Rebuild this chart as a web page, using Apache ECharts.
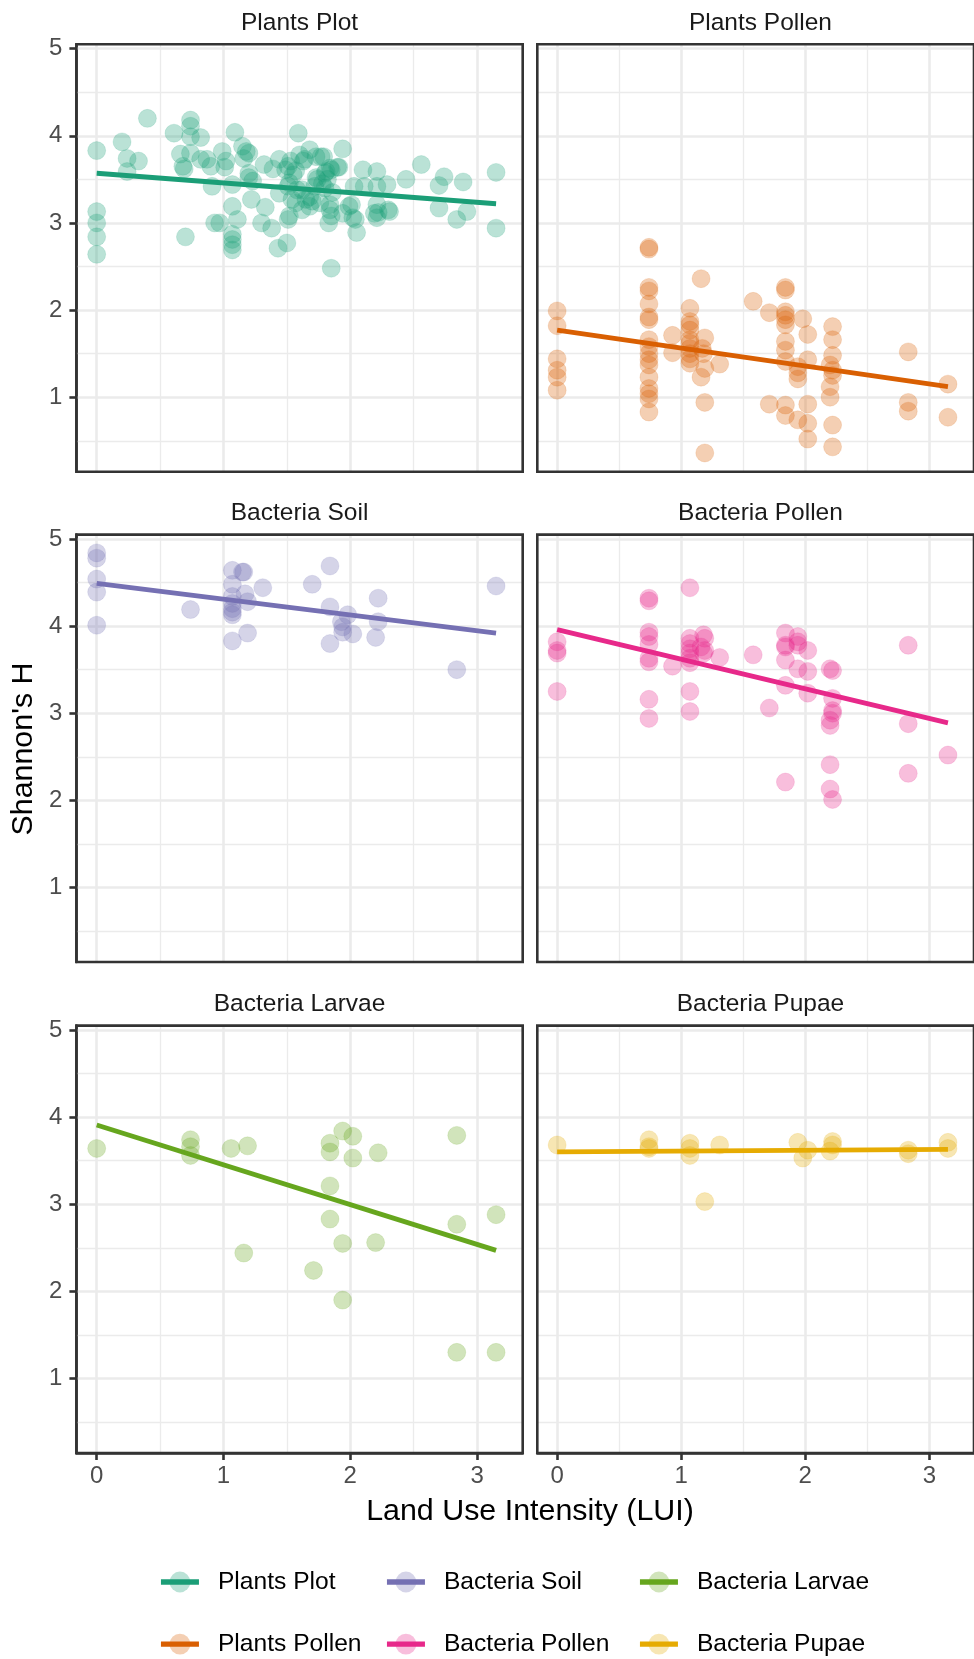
<!DOCTYPE html>
<html>
<head>
<meta charset="utf-8">
<script src="https://cdn.jsdelivr.net/npm/echarts@6/dist/echarts.min.js"></script>
<style>
  html, body { margin: 0; padding: 0; background: #fff; }
  #chart { width: 974px; height: 1659px; }
</style>
</head>
<body>
<div id="chart"></div>
<script>
  // groups, in facet order (row by row)
  const groupNames = ['Plants Plot', 'Plants Pollen', 'Bacteria Soil', 'Bacteria Pollen', 'Bacteria Larvae', 'Bacteria Pupae'];
  const groupColors = ['#1B9E77', '#D95F02', '#7570B3', '#E7298A', '#66A61E', '#E6AB02'];
  const groupFills = ['rgba(27,158,119,0.3)', 'rgba(217,95,2,0.3)', 'rgba(117,112,179,0.3)',
    'rgba(231,41,138,0.3)', 'rgba(102,166,30,0.3)', 'rgba(230,171,2,0.3)'];
  const xTicks = [0, 1, 2, 3];
  const yTicks = [1, 2, 3, 4, 5];

  // [LUI, Shannon's H]
  const plantsPlot = [
    [0, 3.83], [0, 3.13], [0, 3.0], [0, 2.84], [0, 2.64],
    [0.20, 3.93], [0.24, 3.74], [0.24, 3.59], [0.33, 3.71], [0.40, 4.20],
    [0.61, 4.03], [0.74, 4.18], [0.74, 4.11], [0.74, 3.99], [0.82, 3.98],
    [0.66, 3.79], [0.68, 3.65], [0.69, 3.62], [0.74, 3.80], [0.70, 2.84],
    [0.82, 3.73], [0.87, 3.73], [0.90, 3.65], [0.91, 3.42], [0.93, 3.0], [0.97, 3.0],
    [0.99, 3.82], [1.02, 3.71], [1.01, 3.64], [1.07, 3.44], [1.09, 4.04], [1.07, 3.19], [1.11, 3.04],
    [1.07, 2.87], [1.07, 2.81], [1.07, 2.75], [1.07, 2.69],
    [1.15, 3.88], [1.18, 3.82], [1.20, 3.80], [1.20, 3.57], [1.20, 3.52], [1.22, 3.27], [1.16, 3.74], [1.23, 3.48],
    [1.32, 3.67], [1.30, 3.0], [1.33, 3.18], [1.38, 2.94], [1.43, 2.71],
    [1.39, 3.62], [1.44, 3.73], [1.49, 3.61], [1.51, 3.65], [1.52, 3.46], [1.44, 3.34], [1.52, 3.08],
    [1.50, 2.77], [1.57, 3.23], [1.59, 4.03], [1.60, 3.78],
    [1.94, 3.85], [1.68, 3.84], [1.73, 3.76], [1.77, 3.76], [1.64, 3.73], [1.85, 3.61], [1.90, 3.64],
    [1.81, 3.59], [1.82, 3.50], [1.73, 3.52], [1.72, 3.42], [1.62, 3.38], [1.65, 3.27], [1.68, 3.19],
    [1.76, 3.23], [1.84, 3.21], [1.84, 3.15], [1.85, 3.08], [1.83, 3.0], [1.94, 3.11], [2.01, 3.21],
    [2.02, 3.06], [2.05, 2.89], [2.03, 3.42], [2.10, 3.61], [2.11, 3.42], [2.21, 3.59], [2.21, 3.42],
    [2.29, 3.44], [2.21, 3.21], [2.21, 3.06], [2.19, 3.11], [2.30, 3.15], [1.85, 2.48], [2.44, 3.50],
    [2.56, 3.67], [2.74, 3.53], [2.70, 3.43], [2.89, 3.47], [2.70, 3.17], [2.84, 3.04], [2.92, 3.13],
    [3.15, 3.58], [3.15, 2.94],
    [1.51, 3.42], [1.54, 3.27], [1.58, 3.38], [1.55, 3.55], [1.53, 3.71], [1.57, 3.60], [1.91, 3.64],
    [1.86, 3.35], [1.62, 3.15], [1.68, 3.30], [1.78, 3.45], [1.80, 3.40], [1.70, 3.25], [1.74, 3.50],
    [1.80, 3.57], [1.84, 3.63], [1.99, 3.19], [2.04, 3.04], [2.22, 3.12], [2.31, 3.13], [1.51, 3.04],
    [1.63, 3.71], [1.79, 3.76]
  ];
  const plantsPollen = [
    [0, 1.99], [0, 1.82], [0, 1.44], [0, 1.31], [0, 1.23], [0, 1.08],
    [0.74, 2.72], [0.74, 2.70], [0.74, 2.26], [0.74, 2.22], [0.74, 2.07], [0.74, 1.92], [0.74, 1.89],
    [0.74, 1.66], [0.74, 1.58], [0.74, 1.50], [0.74, 1.43], [0.74, 1.37], [0.74, 1.23], [0.74, 1.10],
    [0.74, 1.04], [0.74, 0.98], [0.74, 0.83],
    [0.93, 1.71], [0.93, 1.51],
    [1.07, 2.02], [1.07, 1.87], [1.07, 1.83], [1.07, 1.77], [1.07, 1.66], [1.07, 1.62], [1.07, 1.56],
    [1.07, 1.50], [1.07, 1.44], [1.07, 1.39],
    [1.16, 2.36], [1.19, 1.68], [1.17, 1.56], [1.18, 1.50], [1.19, 1.33], [1.16, 1.23], [1.31, 1.38],
    [1.19, 0.94], [1.19, 0.36],
    [1.58, 2.10], [1.71, 1.97], [1.84, 2.26], [1.84, 2.23], [1.84, 1.98], [1.84, 1.94], [1.84, 1.89],
    [1.84, 1.83], [1.84, 1.64], [1.84, 1.54], [1.84, 1.41], [1.84, 0.91], [1.84, 0.79],
    [1.98, 1.90], [2.02, 1.72], [2.02, 1.43], [1.94, 1.35], [1.94, 1.28], [1.94, 1.21], [1.71, 0.92],
    [1.94, 0.74], [2.02, 0.92], [2.02, 0.70], [2.02, 0.52],
    [2.22, 1.81], [2.22, 1.66], [2.22, 1.48], [2.20, 1.37], [2.22, 1.31], [2.22, 1.25], [2.20, 1.12],
    [2.20, 1.00], [2.22, 0.68], [2.22, 0.43],
    [2.83, 1.52], [2.83, 0.94], [2.83, 0.84], [3.15, 1.15], [3.15, 0.77]
  ];
  const bacteriaSoil = [
    [0, 4.84], [0, 4.78], [0, 4.54], [0, 4.39], [0, 4.01], [0.74, 4.19],
    [1.07, 4.64], [1.07, 4.48], [1.07, 4.34], [1.07, 4.26], [1.07, 4.20], [1.07, 4.16], [1.07, 4.13],
    [1.07, 3.83], [1.15, 4.62], [1.16, 4.62], [1.17, 4.37], [1.19, 4.28], [1.19, 3.92], [1.31, 4.44],
    [1.70, 4.48], [1.84, 4.69], [1.84, 4.22], [1.84, 3.80], [1.93, 4.05], [1.94, 3.99], [1.94, 3.93],
    [1.98, 4.13], [2.02, 3.91], [2.20, 3.87], [2.22, 4.32], [2.22, 4.05], [2.84, 3.50], [3.15, 4.46]
  ];
  const bacteriaPollen = [
    [0, 3.82], [0, 3.72], [0, 3.69], [0, 3.25],
    [0.74, 4.32], [0.74, 4.29], [0.74, 3.93], [0.74, 3.88], [0.74, 3.79], [0.74, 3.63], [0.74, 3.59],
    [0.74, 3.16], [0.74, 2.94],
    [1.07, 4.44], [0.93, 3.54], [1.07, 3.86], [1.07, 3.80], [1.07, 3.74], [1.07, 3.69], [1.07, 3.63],
    [1.07, 3.58], [1.07, 3.25], [1.07, 3.02],
    [1.18, 3.90], [1.19, 3.86], [1.16, 3.76], [1.18, 3.69], [1.19, 3.72], [1.31, 3.64], [1.58, 3.67],
    [1.71, 3.06], [1.84, 3.92], [1.84, 3.78], [1.84, 3.76], [1.84, 3.61], [1.84, 3.32], [1.84, 2.21],
    [1.94, 3.88], [1.94, 3.82], [1.94, 3.78], [1.94, 3.51], [2.02, 3.72], [2.02, 3.48], [2.02, 3.23],
    [2.20, 3.51], [2.22, 3.49], [2.22, 3.17], [2.22, 3.03], [2.22, 3.00], [2.20, 2.92], [2.20, 2.86],
    [2.20, 2.41], [2.20, 2.13], [2.22, 2.01],
    [2.83, 3.78], [2.83, 2.88], [2.83, 2.31], [3.15, 2.52]
  ];
  const bacteriaLarvae = [
    [0, 3.64], [0.74, 3.74], [0.74, 3.66], [0.74, 3.56], [1.06, 3.64], [1.19, 3.67], [1.16, 2.44],
    [1.71, 2.24], [1.84, 3.70], [1.84, 3.60], [1.84, 3.21], [1.84, 2.83], [1.94, 3.84], [2.02, 3.78],
    [2.02, 3.53], [1.94, 2.55], [1.94, 1.90], [2.20, 2.56], [2.22, 3.59], [2.84, 3.79], [2.84, 2.77],
    [2.84, 1.30], [3.15, 2.88], [3.15, 1.30]
  ];
  const bacteriaPupae = [
    [0, 3.68], [0.74, 3.74], [0.74, 3.66], [0.74, 3.64], [1.07, 3.70], [1.07, 3.64], [1.07, 3.56],
    [1.19, 3.03], [1.31, 3.68], [1.94, 3.71], [2.02, 3.62], [1.98, 3.53], [2.22, 3.72], [2.22, 3.68],
    [2.20, 3.61], [2.83, 3.62], [2.83, 3.58], [3.15, 3.71], [3.15, 3.64]
  ];

  // fitted lines (lm), ends
  const plantsPlotFit = [[0, 3.57], [3.15, 3.22]];
  const plantsPollenFit = [[0, 1.77], [3.15, 1.12]];
  const bacteriaSoilFit = [[0, 4.49], [3.15, 3.92]];
  const bacteriaPollenFit = [[0, 3.96], [3.15, 2.89]];
  const bacteriaLarvaeFit = [[0, 3.91], [3.15, 2.47]];
  const bacteriaPupaeFit = [[0, 3.60], [3.15, 3.63]];

  const points = [plantsPlot, plantsPollen, bacteriaSoil, bacteriaPollen, bacteriaLarvae, bacteriaPupae];
  const fits = [plantsPlotFit, plantsPollenFit, bacteriaSoilFit, bacteriaPollenFit, bacteriaLarvaeFit, bacteriaPupaeFit];

  const FONT = '"Liberation Sans", Arial, Helvetica, sans-serif';
  const panelLeft = [76.4, 537.3];
  const panelTop = [44.3, 534.6, 1025.6];
  const panelW = 446.3;
  const panelH = 427.4;

  // background grid, ggplot style (major + minor)
  const gridMarks = [];
  [0, 1, 2, 3].forEach(v => gridMarks.push({xAxis: v, lineStyle: {width: 2.6}}));
  [0.5, 1.5, 2.5].forEach(v => gridMarks.push({xAxis: v, lineStyle: {width: 1.3}}));
  [1, 2, 3, 4, 5].forEach(v => gridMarks.push({yAxis: v, lineStyle: {width: 2.6}}));
  [0.5, 1.5, 2.5, 3.5, 4.5].forEach(v => gridMarks.push({yAxis: v, lineStyle: {width: 1.3}}));

  const grids = [], xAxes = [], yAxes = [], series = [], texts = [];

  groupNames.forEach((name, i) => {
    const col = i % 2, row = Math.floor(i / 2);
    const bottomRow = row === 2, leftCol = col === 0;
    grids.push({
      left: panelLeft[col], top: panelTop[row], width: panelW, height: panelH,
      show: true, backgroundColor: 'transparent', borderColor: '#333333', borderWidth: 2.6, z: 10
    });
    xAxes.push({
      type: 'value', gridIndex: i, min: -0.16, max: 3.36, position: 'bottom',
      axisLine: {show: bottomRow, onZero: false, lineStyle: {color: '#333333', width: 2.6}},
      splitLine: {show: false},
      axisTick: {show: bottomRow, customValues: xTicks, length: 7, lineStyle: {color: '#333333', width: 2.6}},
      axisLabel: {show: bottomRow, customValues: xTicks, margin: 11, fontSize: 24, color: '#4D4D4D', fontFamily: FONT}
    });
    yAxes.push({
      type: 'value', gridIndex: i, min: 0.145, max: 5.05, position: 'left',
      axisLine: {show: leftCol, onZero: false, lineStyle: {color: '#333333', width: 2.6}},
      splitLine: {show: false},
      axisTick: {show: leftCol, customValues: yTicks, length: 7, lineStyle: {color: '#333333', width: 2.6}},
      axisLabel: {show: leftCol, customValues: yTicks, margin: 14, fontSize: 24, color: '#4D4D4D', fontFamily: FONT}
    });
    // line first so the legend takes its icon
    series.push({
      type: 'line', name: name, xAxisIndex: i, yAxisIndex: i, data: fits[i],
      symbol: 'none', lineStyle: {color: groupColors[i], width: 4.8}, itemStyle: {color: groupColors[i]},
      z: 7, silent: true, animation: false
    });
    series.push({
      type: 'scatter', name: name, xAxisIndex: i, yAxisIndex: i, data: points[i],
      symbolSize: 18,
      itemStyle: {color: groupColors[i], opacity: 0.3, borderColor: groupColors[i], borderWidth: 0.5},
      z: 6, silent: true, animation: false,
      markLine: {
        z: 1, silent: true, animation: false, symbol: ['none', 'none'],
        label: {show: false},
        lineStyle: {type: 'solid', color: '#EBEBEB'},
        emphasis: {disabled: true},
        data: gridMarks
      }
    });
    texts.push({
      type: 'text', x: panelLeft[col] + panelW / 2, y: panelTop[row] - 21.5,
      style: {text: name, fontSize: 24.5, fontFamily: FONT, fill: '#1A1A1A', align: 'center', verticalAlign: 'middle'}
    });
  });

  texts.push({
    type: 'text', x: 530, y: 1512,
    style: {text: 'Land Use Intensity (LUI)', fontSize: 30.4, fontFamily: FONT, fill: '#000', align: 'center', verticalAlign: 'middle'}
  });
  texts.push({
    type: 'text', x: 24, y: 749, rotation: Math.PI / 2,
    style: {text: "Shannon's H", fontSize: 30.4, fontFamily: FONT, fill: '#000', align: 'center', verticalAlign: 'middle'}
  });

  const legendLeft = [158.3, 384.3, 637.3];
  const legends = [0, 1, 2].map(c => ({
    orient: 'vertical', left: legendLeft[c], top: 1569.5, padding: 0,
    itemWidth: 38, itemHeight: 26, itemGap: 37.2, selectedMode: false,
    textStyle: {fontSize: 24.6, fontFamily: FONT, color: '#000', padding: [0, 0, 0, 14]},
    data: [c * 2, c * 2 + 1].map(k => ({
      name: groupNames[k],
      itemStyle: {color: groupFills[k], borderWidth: 0},
      lineStyle: {color: groupColors[k], width: 5.3}
    }))
  }));

  const chart = echarts.init(document.getElementById('chart'));
  chart.setOption({
    backgroundColor: '#ffffff',
    animation: false,
    grid: grids,
    xAxis: xAxes,
    yAxis: yAxes,
    legend: legends,
    graphic: texts,
    series: series
  });
</script>
</body>
</html>
